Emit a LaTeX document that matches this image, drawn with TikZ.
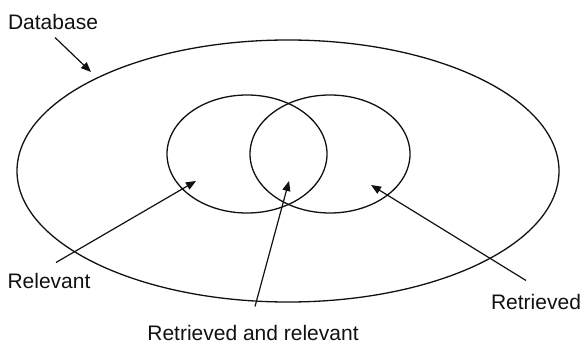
\documentclass[tikz,border=0pt]{standalone}
\usepackage{fontspec}
\setmainfont{Liberation Sans}
\usetikzlibrary{arrows.meta, positioning}
\definecolor{inkblack}{HTML}{111111}

\begin{document}
\begin{tikzpicture}[
    x=0.5pt, y=-0.5pt,
    >={Triangle[length=5pt, width=4pt]},
    every node/.style={text=inkblack, inner sep=1pt,
      font=\fontsize{10.5}{12}\selectfont},
    setline/.style={draw=inkblack, line width=0.65pt},
    pointer/.style={->, draw=inkblack, line width=0.6pt},
  ]

  % Frame of the picture
  \useasboundingbox (0,0) rectangle (582,342);

  % === Sets ===
  \draw[setline] (288,171) ellipse (271 and 131);
  \draw[setline] (247,154) ellipse (80 and 59);
  \draw[setline] (330,154) ellipse (80 and 59);

  % === Labels ===
  \node (database) at (53,22) {Database};
  \node (relevant) at (49,281) {Relevant};
  \node (retrieved) at (536,302) {Retrieved};
  \node (both) at (253,333) {Retrieved and relevant};

  % Arrow tips inside the sets
  \coordinate (dbtip) at (91,72);
  \coordinate (reltip) at (196,181);
  \coordinate (bothtip) at (289,181);
  \coordinate (rettip) at (371,185);

  % === Pointers ===
  \draw[pointer] ([shift={(1pt,-2.7pt)}]database.south) -- (dbtip);
  \draw[pointer] ([shift={(3.5pt,4.2pt)}]relevant.north) -- (reltip);
  \draw[pointer] ([shift={(1pt,8.2pt)}]both.north) -- (bothtip);
  \draw[pointer] ([shift={(-5pt,5.7pt)}]retrieved.north) -- (rettip);

\end{tikzpicture}
\end{document}
